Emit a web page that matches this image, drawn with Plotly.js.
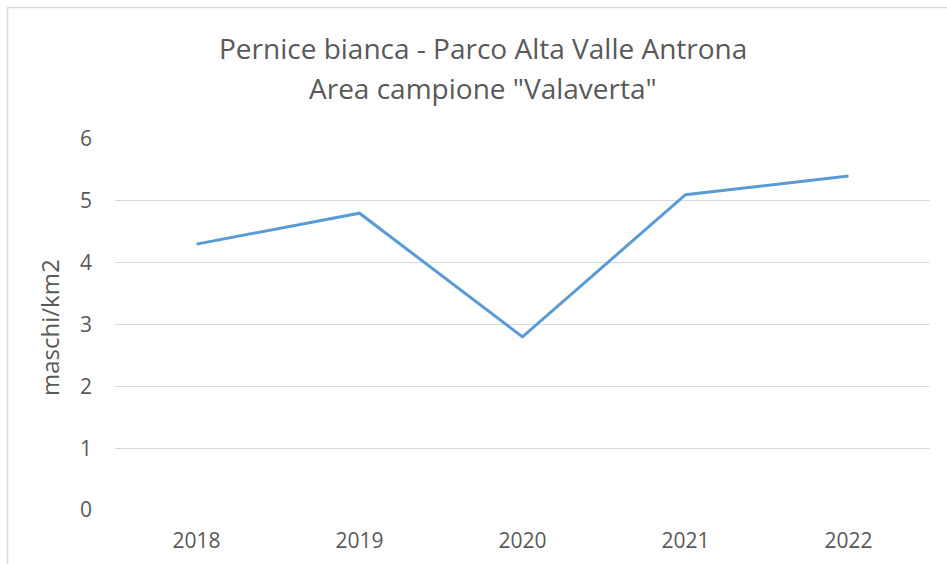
<!DOCTYPE html>
<html>
<head>
<meta charset="utf-8">
<script src="https://cdn.plot.ly/plotly-3.0.1.min.js"></script>
<style>html,body{margin:0;padding:0;background:#fff;}#chart{width:947px;height:564px;}</style>
</head>
<body>
<div id="chart"></div>
<script>
const years = ["2018", "2019", "2020", "2021", "2022"];
const density = [4.3, 4.8, 2.8, 5.1, 5.4];
const yTicks = [0, 1, 2, 3, 4, 5, 6];
const titleLine1 = "Pernice bianca - Parco Alta Valle Antrona";
const titleLine2 = 'Area campione "Valaverta"';
const yTitle = "maschi/km2";

const font = "Open Sans, sans-serif";
const textColor = "#595959";

const trace = {
  x: years,
  y: density,
  type: "scatter",
  mode: "lines",
  line: {color: "#5B9BD5", width: 3},
  hoverinfo: "x+y"
};

const W = 947, H = 564, L = 115, R = 17, T = 139, B = 54;
const pw = W - L - R, ph = H - T - B;
const px = v => (v - L) / pw;
const py = v => (H - B - v) / ph;

const layout = {
  width: W, height: H,
  margin: {l: L, r: R, t: T, b: B},
  paper_bgcolor: "#ffffff",
  plot_bgcolor: "#ffffff",
  showlegend: false,
  font: {family: font, color: textColor, size: 21},
  xaxis: {
    type: "category",
    range: [-0.5, 4.5],
    showgrid: false,
    zeroline: false,
    showline: false,
    ticks: "",
    tickfont: {family: font, size: 21, color: textColor},
    ticklabelstandoff: 16
  },
  yaxis: {
    range: [0, 6],
    tickvals: yTicks,
    showgrid: true,
    gridcolor: "#D9D9D9",
    gridwidth: 1.3,
    zeroline: false,
    showline: false,
    ticks: "",
    tickfont: {family: font, size: 21, color: textColor},
    ticklabelstandoff: 22
  },
  annotations: [
    {text: titleLine1, xref: "paper", yref: "paper", x: px(483), y: py(48), xanchor: "center", yanchor: "middle", showarrow: false, font: {family: font, size: 28, color: textColor}},
    {text: titleLine2, xref: "paper", yref: "paper", x: px(483), y: py(88), xanchor: "center", yanchor: "middle", showarrow: false, font: {family: font, size: 28, color: textColor}},
    {text: yTitle, xref: "paper", yref: "paper", x: px(49), y: py(328), xanchor: "center", yanchor: "middle", textangle: -90, showarrow: false, font: {family: font, size: 24, color: textColor}}
  ],
  shapes: [
    {type: "line", xref: "paper", yref: "paper", x0: px(7.5), x1: px(960), y0: py(7.5), y1: py(7.5), line: {color: "#D9D9D9", width: 1.5}},
    {type: "line", xref: "paper", yref: "paper", x0: px(7.5), x1: px(7.5), y0: py(7.5), y1: py(580), line: {color: "#D9D9D9", width: 1.5}}
  ]
};

Plotly.newPlot("chart", [trace], layout, {displayModeBar: false, staticPlot: true});
</script>
</body>
</html>
